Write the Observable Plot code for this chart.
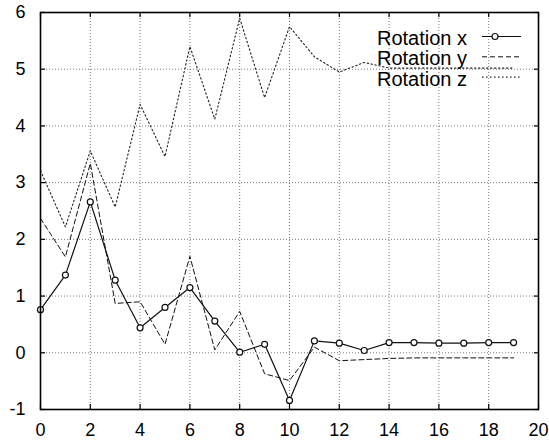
<!DOCTYPE html>
<html><head><meta charset="utf-8">
<script src="https://cdn.jsdelivr.net/npm/d3@7"></script>
<script src="https://cdn.jsdelivr.net/npm/@observablehq/plot@0.6"></script>
<style>body{margin:0;background:#fff;} #chart{position:relative;width:549px;height:441px;}</style>
</head><body><div id="chart"></div>
<script>
const frames = [0,1,2,3,4,5,6,7,8,9,10,11,12,13,14,15,16,17,18,19];
const rotX = [0.76, 1.37, 2.66, 1.28, 0.44, 0.80, 1.15, 0.56, 0.01, 0.15, -0.84, 0.21, 0.17, 0.04, 0.18, 0.18, 0.17, 0.17, 0.18, 0.18];
const rotY = [2.37, 1.69, 3.34, 0.87, 0.90, 0.15, 1.70, 0.05, 0.73, -0.37, -0.49, 0.10, -0.14, -0.12, -0.10, -0.09, -0.09, -0.09, -0.09, -0.09];
const rotZ = [3.21, 2.22, 3.56, 2.57, 4.38, 3.46, 5.40, 4.12, 5.90, 4.50, 5.75, 5.22, 4.95, 5.12, 5.02, 5.02, 5.02, 5.02, 5.02, 5.02];
const seriesNames = ["Rotation x", "Rotation y", "Rotation z"];
const xTicks = [0,2,4,6,8,10,12,14,16,18,20];
const yTicks = [-1,0,1,2,3,4,5,6];

const values = [rotX, rotY, rotZ];
const styles = [
  {stroke: "#111", strokeWidth: 1.2, strokeDasharray: null},
  {stroke: "#111", strokeWidth: 1, strokeDasharray: "5,3"},
  {stroke: "#222", strokeWidth: 1.1, strokeDasharray: "1.5,2.5"}
];
const rows = [];
seriesNames.forEach((s, k) => frames.forEach((f, i) => rows.push({series: s, t: f, v: values[k][i]})));

const font = "'Liberation Sans', Arial, Helvetica, sans-serif";
const gridStyle = {stroke: "#444", strokeOpacity: 0.9, strokeWidth: 0.8, strokeDasharray: "1,2"};
const blank = () => "";

const marks = [
  Plot.gridX(xTicks, gridStyle),
  Plot.gridY(yTicks, gridStyle),
  Plot.axisX(xTicks, {anchor: "bottom", tickSize: -5, tickFormat: blank, label: null, strokeWidth: 1.2}),
  Plot.axisY(yTicks, {anchor: "left", tickSize: -5, tickFormat: blank, label: null, strokeWidth: 1.2}),
  Plot.axisX(xTicks, {anchor: "top", tickSize: -4, tickFormat: blank, label: null, strokeWidth: 1.2}),
  Plot.axisY(yTicks, {anchor: "right", tickSize: -5, tickFormat: blank, label: null, strokeWidth: 1.2}),
  Plot.text(xTicks, {x: d => d, text: d => String(d), frameAnchor: "bottom", lineAnchor: "top", dy: 14, fontSize: 18, fill: "#000"}),
  Plot.text(yTicks, {y: d => d, text: d => String(d), frameAnchor: "left", textAnchor: "end", dx: -15, fontSize: 18, fill: "#000"})
];
seriesNames.forEach((s, k) => {
  marks.push(Plot.line(rows.filter(d => d.series === s), {x: "t", y: "v", ...styles[k]}));
});
marks.push(Plot.dot(rows.filter(d => d.series === seriesNames[0]), {x: "t", y: "v", r: 3, fill: "white", stroke: "#111", strokeWidth: 1.2}));
marks.push(Plot.frame({stroke: "#000", strokeWidth: 1.6}));

const plot = Plot.plot({
  width: 549, height: 441,
  marginLeft: 40, marginRight: 11, marginTop: 12, marginBottom: 32,
  style: {fontFamily: font, fontSize: "18px", background: "#fff", color: "#000"},
  x: {domain: [0, 20]},
  y: {domain: [-1, 6]},
  marks
});
document.getElementById("chart").appendChild(plot);

const svg = d3.select(plot);
// legend (gnuplot style key, top right inside the plot)
const key = svg.append("g").attr("font-family", font).attr("font-size", 20).attr("text-anchor", "start");
seriesNames.forEach((s, k) => {
  const base = 45 + k * 20.3;
  key.append("text").attr("x", 377).attr("y", base).attr("fill", "#000").text(s);
  const ly = base - 8.5;
  key.append("line").attr("x1", 482).attr("x2", 521).attr("y1", ly).attr("y2", ly)
    .attr("stroke", styles[k].stroke).attr("stroke-width", styles[k].strokeWidth)
    .attr("stroke-dasharray", styles[k].strokeDasharray);
  if (k === 0) key.append("circle").attr("cx", 495).attr("cy", ly).attr("r", 3)
    .attr("fill", "white").attr("stroke", "#111").attr("stroke-width", 1.2);
});
</script>
</body></html>
